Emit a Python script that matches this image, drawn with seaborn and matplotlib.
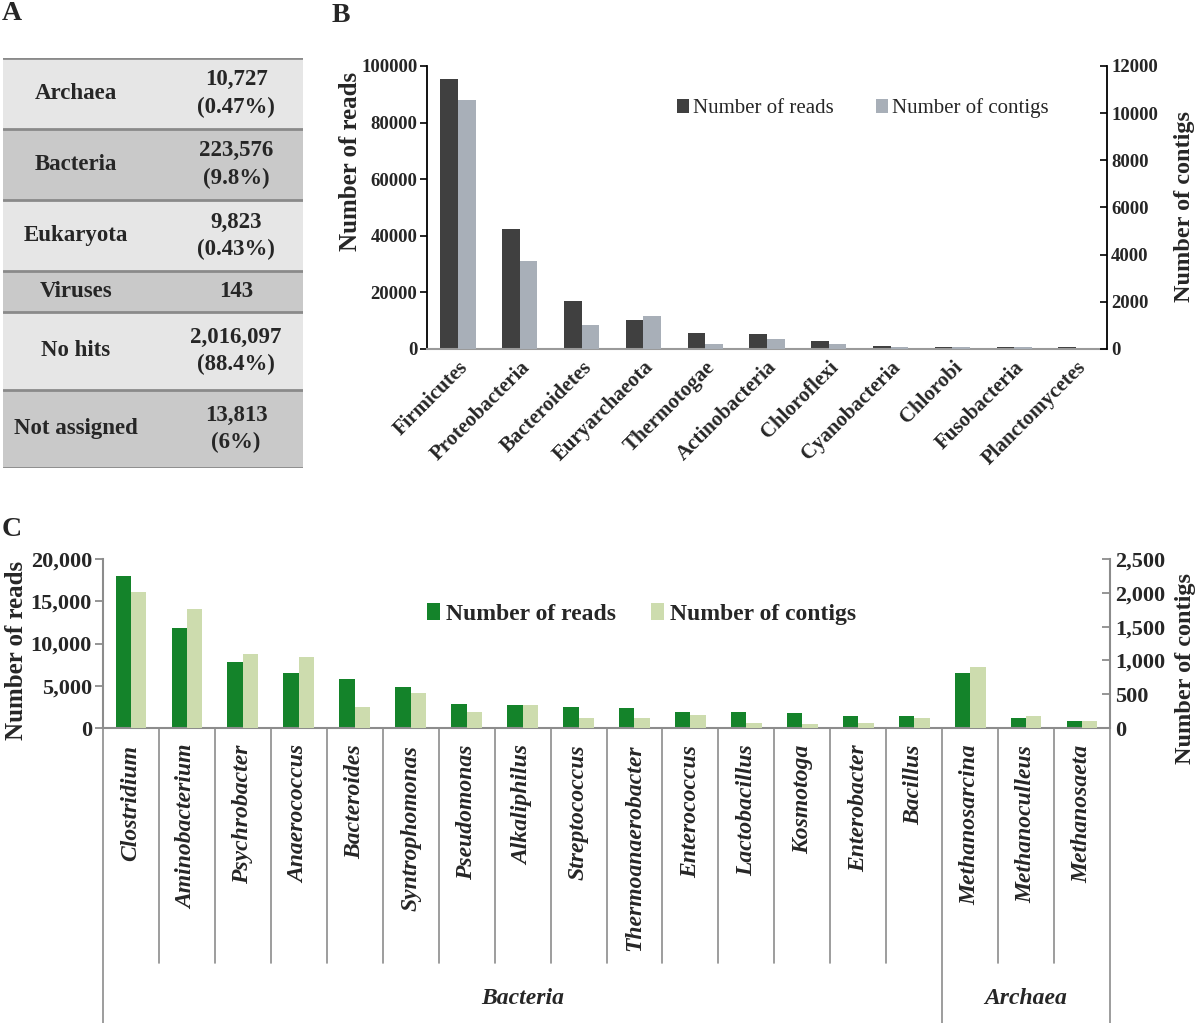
import numpy as np
import pandas as pd
import matplotlib
matplotlib.use("Agg")
import matplotlib.pyplot as plt
import seaborn as sns
from matplotlib.patches import Patch
from matplotlib.lines import Line2D
from matplotlib import transforms
from matplotlib.ticker import FuncFormatter, MultipleLocator

# ---------------- data ----------------
# Panel A
domains = ["Archaea", "Bacteria", "Eukaryota", "Viruses", "No hits", "Not assigned"]
domain_counts = ["10,727", "223,576", "9,823", "143", "2,016,097", "13,813"]
domain_pcts = ["(0.47%)", "(9.8%)", "(0.43%)", "", "(88.4%)", "(6%)"]

# Panel B
phyla = ["Firmicutes", "Proteobacteria", "Bacteroidetes", "Euryarchaeota", "Thermotogae",
         "Actinobacteria", "Chloroflexi", "Cyanobacteria", "Chlorobi", "Fusobacteria",
         "Planctomycetes"]
phylum_reads = [95400, 42400, 17100, 10250, 5750, 5150, 2950, 1200, 700, 700, 700]
phylum_contigs = [10570, 3740, 1030, 1420, 210, 420, 210, 85, 85, 85, 10]

# Panel C
genera = ["Clostridium", "Aminobacterium", "Psychrobacter", "Anaerococcus", "Bacteroides",
          "Syntrophomonas", "Pseudomonas", "Alkaliphilus", "Streptococcus",
          "Thermoanaerobacter", "Enterococcus", "Lactobacillus", "Kosmotoga", "Enterobacter",
          "Bacillus", "Methanosarcina", "Methanoculleus", "Methanosaeta"]
genus_domain = ["Bacteria"] * 15 + ["Archaea"] * 3
genus_reads = [18000, 11800, 7800, 6500, 5750, 4800, 2850, 2730, 2530, 2330, 1940, 1940,
               1740, 1380, 1380, 6500, 1220, 870]
genus_contigs = [2015, 1760, 1095, 1045, 316, 524, 242, 341, 143, 149, 198, 79, 54, 79,
                 150, 909, 173, 104]

SER = ["Liberation Serif", "DejaVu Serif"]
sns.set_style("white")
plt.rcParams["font.family"] = SER
plt.rcParams["font.weight"] = "bold"

W, H = 1200, 1023
fig = plt.figure(figsize=(12, 10.23), dpi=100)


def fx(px):
    return px / W


def fy(py):
    return 1 - py / H


def dual_bars(ax, cats, reads, contigs, c_reads, c_contigs, width):
    order = ["Number of reads", "Number of contigs"]
    n = len(cats)
    df = pd.DataFrame({
        "cat": list(cats) * 2,
        "value": list(reads) + list(contigs),
        "series": [order[0]] * n + [order[1]] * n,
    })
    pal = {order[0]: c_reads, order[1]: c_contigs}
    ax2 = ax.twinx()
    sns.barplot(data=df[df.series == order[0]], x="cat", y="value", hue="series",
                hue_order=order, order=cats, palette=pal, dodge=True, width=width,
                gap=0, saturation=1, legend=False, errorbar=None, edgecolor="none",
                linewidth=0, ax=ax)
    sns.barplot(data=df[df.series == order[1]], x="cat", y="value", hue="series",
                hue_order=order, order=cats, palette=pal, dodge=True, width=width,
                gap=0, saturation=1, legend=False, errorbar=None, edgecolor="none",
                linewidth=0, ax=ax2)
    ax.set_xlim(-0.5, n - 0.5)
    ax.set_xlabel("")
    ax2.set_xlabel("")
    handles = [Patch(facecolor=c_reads, edgecolor="none", label=order[0]),
               Patch(facecolor=c_contigs, edgecolor="none", label=order[1])]
    return ax2, handles


# ---------------- Panel A : table ----------------
axA = fig.add_axes([fx(3), fy(468), fx(300), (468 - 58) / H])
row_h = [72 if p else 41 for p in domain_pcts]
row_h[4] = row_h[5] = 79
total = sum(row_h)
axA.set_xlim(0, 1)
axA.set_ylim(total, 0)
axA.axis("off")
y0 = 0
for i, (d, c, p) in enumerate(zip(domains, domain_counts, domain_pcts)):
    h = row_h[i]
    col = "#e6e6e6" if i % 2 == 0 else "#c9c9c9"
    axA.axhspan(y0, y0 + h, color=col, lw=0)
    axA.text(0.243, y0 + h / 2, d, ha="center", va="center", fontsize=16.5, fontweight="bold")
    txt = c if not p else c + "\n" + p
    axA.text(0.777, y0 + h / 2, txt, ha="center", va="center", fontsize=16.5,
             fontweight="bold", linespacing=1.4)
    y0 += h
yb = 0
for h in [0] + row_h:
    yb += h
    axA.axhline(yb, color="#8a8a8a", lw=2)

# ---------------- Panel B ----------------
axB = fig.add_axes([fx(427), fy(349), fx(1107 - 427), (349 - 66) / H])
axB2, hB = dual_bars(axB, phyla, phylum_reads, phylum_contigs, "#404040", "#a8afb8", 0.57)
axB.set_ylim(0, 100000)
axB2.set_ylim(0, 12000)
axB.yaxis.set_major_locator(MultipleLocator(20000))
axB2.yaxis.set_major_locator(MultipleLocator(2000))
for a in (axB, axB2):
    for s in a.spines.values():
        s.set_visible(False)
axB.spines["left"].set_visible(True)
axB.spines["left"].set_color("black")
axB.spines["left"].set_linewidth(1.3)
axB.spines["bottom"].set_visible(True)
axB.spines["bottom"].set_color("#9a9a9a")
axB.spines["bottom"].set_linewidth(1.5)
axB2.spines["right"].set_visible(True)
axB2.spines["right"].set_color("black")
axB2.spines["right"].set_linewidth(1.3)
axB.tick_params(axis="y", direction="out", length=5, width=1.2, color="black",
                labelsize=13.5, pad=2, left=True)
axB2.tick_params(axis="y", direction="in", length=5, width=1.2, color="black",
                 labelsize=13.5, pad=3, right=True)
for lab in axB.get_yticklabels() + axB2.get_yticklabels():
    lab.set_fontweight("bold")
axB.set_xticks(range(len(phyla)))
axB.set_xticklabels(phyla, rotation=45, ha="right", va="top", rotation_mode="anchor",
                    fontsize=15, fontweight="bold")
axB.tick_params(axis="x", length=0, pad=6)
axB.set_ylabel("Number of reads", fontsize=18, fontweight="bold")
axB.yaxis.set_label_coords(-0.0956, 0.664)
axB2.set_ylabel("Number of contigs", fontsize=17.5, fontweight="bold")
axB2.yaxis.set_label_coords(1.0985, 0.505)
axB.legend(handles=hB, loc="center left", bbox_to_anchor=(0.355, 0.85), ncol=2,
           frameon=False, prop={"family": SER, "weight": "normal", "size": 15},
           handlelength=0.6, handleheight=0.6, handletextpad=0.2,
           columnspacing=2.0, borderaxespad=0)

# ---------------- Panel C ----------------
axC = fig.add_axes([fx(103), fy(728), fx(1110 - 103), (728 - 559) / H])
axC2, hC = dual_bars(axC, genera, genus_reads, genus_contigs, "#14832a", "#cddcae", 0.55)
axC.set_ylim(0, 20000)
axC2.set_ylim(0, 2500)
axC.yaxis.set_major_locator(MultipleLocator(5000))
axC2.yaxis.set_major_locator(MultipleLocator(500))
comma = FuncFormatter(lambda v, p: f"{int(v):,}")
axC.yaxis.set_major_formatter(comma)
axC2.yaxis.set_major_formatter(comma)
grey = "#8c8c8c"
for a in (axC, axC2):
    for s in a.spines.values():
        s.set_visible(False)
axC.spines["left"].set_visible(True)
axC.spines["bottom"].set_visible(True)
axC2.spines["right"].set_visible(True)
for s in (axC.spines["left"], axC.spines["bottom"], axC2.spines["right"]):
    s.set_color(grey)
    s.set_linewidth(1.5)
axC.tick_params(axis="y", direction="out", length=6, width=1.3, color=grey,
                labelsize=16, pad=2, left=True)
axC2.tick_params(axis="y", direction="in", length=6, width=1.3, color=grey,
                 labelsize=16, pad=4, right=True)
for lab in axC.get_yticklabels() + axC2.get_yticklabels():
    lab.set_fontweight("bold")
axC.set_xticks(range(len(genera)))
axC.set_xticklabels(genera, rotation=90, ha="center", va="top", fontsize=17,
                    fontweight="bold", fontstyle="italic")
axC.tick_params(axis="x", length=0, pad=12)
axC.set_ylabel("Number of reads", fontsize=18, fontweight="bold")
axC.yaxis.set_label_coords(-0.0745, 0.456)
axC2.set_ylabel("Number of contigs", fontsize=17.5, fontweight="bold")
axC2.yaxis.set_label_coords(1.0646, 0.35)
axC.legend(handles=hC, loc="center left", bbox_to_anchor=(0.312, 0.675), ncol=2,
           frameon=False, prop={"family": SER, "weight": "bold", "size": 17},
           handlelength=0.55, handleheight=0.75, handletextpad=0.25,
           columnspacing=1.5, borderaxespad=0)

# divider lines below panel C
trans = transforms.blended_transform_factory(axC.transData, fig.transFigure)
ytop = axC.get_position().y0
ng = len(genera)
group_edges = {-0.5, ng - 0.5}
for k in range(1, ng):
    if genus_domain[k] != genus_domain[k - 1]:
        group_edges.add(k - 0.5)
for k in range(ng + 1):
    b = k - 0.5
    ybot = 0.0 if b in group_edges else fy(963)
    fig.add_artist(Line2D([b, b], [ybot, ytop], transform=trans, color=grey, lw=1.2))
groups = []
for d in genus_domain:
    if d not in groups:
        groups.append(d)
for g in groups:
    idx = [i for i, d in enumerate(genus_domain) if d == g]
    xc = (idx[0] - 0.5 + idx[-1] + 0.5) / 2
    fig.text(xc, fy(998), g, transform=trans, ha="center", va="center", fontsize=17,
             fontweight="bold", fontstyle="italic")

# panel letters
fig.text(fx(2), fy(14), "A", ha="left", va="center", fontsize=20, fontweight="bold")
fig.text(fx(332), fy(16), "B", ha="left", va="center", fontsize=20, fontweight="bold")
fig.text(fx(2), fy(530), "C", ha="left", va="center", fontsize=20, fontweight="bold")

fig.savefig("out.png", dpi=100, facecolor="white")
